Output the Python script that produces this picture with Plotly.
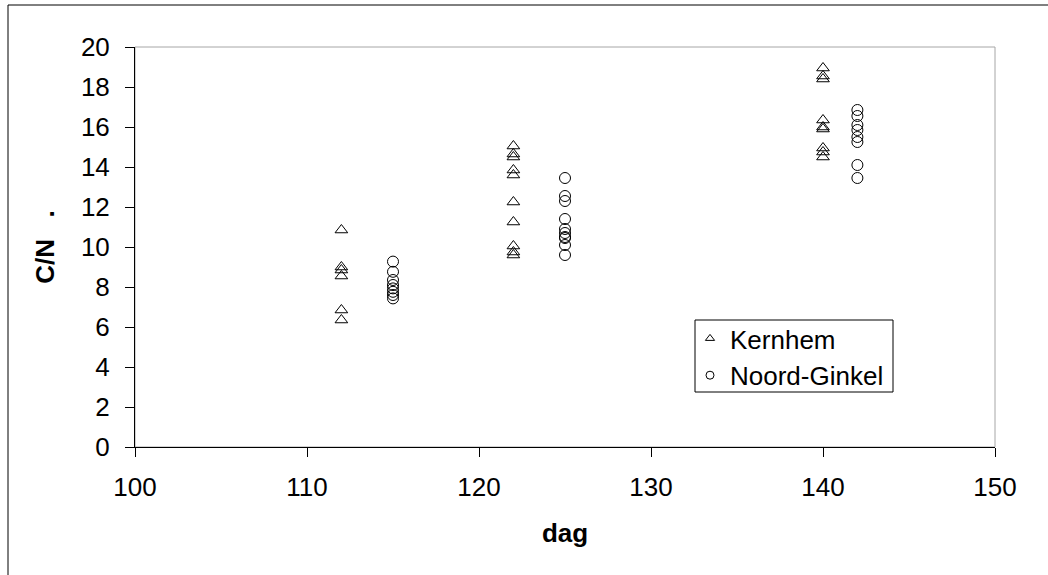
import plotly.graph_objects as go

# C/N ratio per sampling day, two sites
kernhem_dag = [112, 112, 112, 112, 112, 112,
               122, 122, 122, 122, 122, 122, 122, 122, 122, 122,
               140, 140, 140, 140, 140, 140, 140, 140, 140]
kernhem_cn = [10.85, 9.0, 8.85, 8.55, 6.85, 6.35,
              15.05, 14.65, 14.5, 13.85, 13.6, 12.25, 11.25, 10.05, 9.75, 9.6,
              18.95, 18.55, 18.4, 16.35, 16.0, 15.9, 14.95, 14.75, 14.5]

noord_dag = [115, 115, 115, 115, 115, 115, 115, 115,
             125, 125, 125, 125, 125, 125, 125, 125, 125, 125,
             142, 142, 142, 142, 142, 142, 142, 142]
noord_cn = [9.27, 8.76, 8.35, 8.1, 7.93, 7.76, 7.6, 7.43,
            13.45, 12.55, 12.3, 11.4, 10.9, 10.7, 10.5, 10.45, 10.1, 9.6,
            16.85, 16.55, 16.1, 15.85, 15.5, 15.25, 14.1, 13.45]

x_ticks = [100, 110, 120, 130, 140, 150]
y_ticks = [0, 2, 4, 6, 8, 10, 12, 14, 16, 18, 20]

FONT = "Liberation Sans, Arial, sans-serif"
FS = 26

fig = go.Figure()

fig.add_trace(go.Scatter(
    x=kernhem_dag, y=kernhem_cn, mode="markers", name="Kernhem",
    showlegend=False,
    marker=dict(symbol="triangle-up-open", size=11, color="black",
                line=dict(color="black", width=1)),
))
fig.add_trace(go.Scatter(
    x=noord_dag, y=noord_cn, mode="markers", name="Noord-Ginkel",
    showlegend=False,
    marker=dict(symbol="circle-open", size=11, color="black",
                line=dict(color="black", width=1)),
))

# legend entries with smaller symbols
fig.add_trace(go.Scatter(
    x=[None], y=[None], mode="markers", name="Kernhem",
    marker=dict(symbol="triangle-up-open", size=8, color="black",
                line=dict(color="black", width=1)),
))
fig.add_trace(go.Scatter(
    x=[None], y=[None], mode="markers", name="Noord-Ginkel",
    marker=dict(symbol="circle-open", size=8, color="black",
                line=dict(color="black", width=1)),
))

L, R, T, B = 135, 53, 47, 128
W, H = 1048, 575
pw, ph = W - L - R, H - T - B


def px_x(p):
    return (p - L) / pw


def px_y(p):
    return (H - B - p) / ph


fig.update_layout(
    width=W, height=H,
    margin=dict(l=L, r=R, t=T, b=B),
    paper_bgcolor="white", plot_bgcolor="white",
    font=dict(family=FONT, size=FS, color="black"),
    showlegend=True,
    legend=dict(
        x=px_x(690), y=px_y(315), xanchor="left", yanchor="top",
        bgcolor="rgba(0,0,0,0)", borderwidth=0,
        font=dict(family=FONT, size=FS, color="black"),
        itemwidth=30, tracegroupgap=0,
    ),
    shapes=[
        # plot area frame (top/right edges in grey)
        dict(type="rect", xref="paper", yref="paper", x0=0, x1=1, y0=0, y1=1,
             line=dict(color="#a6a6a6", width=1), layer="below"),
        # outer chart frame
        dict(type="rect", xref="paper", yref="paper",
             x0=px_x(8), x1=px_x(W + 20), y0=px_y(H + 20), y1=px_y(5),
             line=dict(color="black", width=1), layer="below"),
        # legend frame
        dict(type="rect", xref="paper", yref="paper",
             x0=px_x(695), x1=px_x(893), y0=px_y(392), y1=px_y(320),
             line=dict(color="black", width=1), fillcolor="white",
             layer="above"),
    ],
)

fig.update_xaxes(
    range=[100, 150], tickvals=x_ticks, ticktext=[str(v) for v in x_ticks],
    showgrid=False, zeroline=False,
    showline=True, linecolor="black", linewidth=1,
    ticks="outside", ticklen=9, tickcolor="black",
    ticklabelstandoff=8,
    title=dict(text="<b>dag</b>", font=dict(family=FONT, size=FS), standoff=22),
)
fig.update_yaxes(
    range=[0, 20], tickvals=y_ticks, ticktext=[str(v) for v in y_ticks],
    showgrid=False, zeroline=False,
    showline=True, linecolor="black", linewidth=1,
    ticks="outside", ticklen=9, tickcolor="black",
    ticklabelstandoff=10,
    title=dict(text="<b>C/N   .</b>", font=dict(family=FONT, size=FS), standoff=18),
)

fig.write_html("out.html")
